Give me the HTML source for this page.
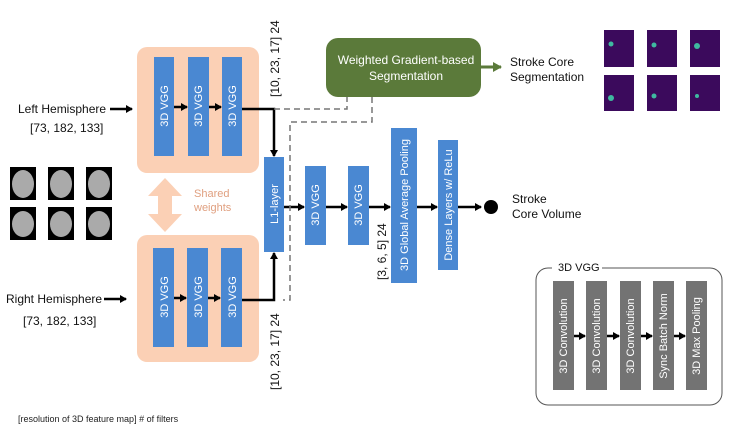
<!DOCTYPE html>
<html><head><meta charset="utf-8"><style>
body{margin:0;background:#fff;width:736px;height:435px;overflow:hidden}
svg{font-family:"Liberation Sans",sans-serif}
</style></head><body>
<svg width="736" height="435" viewBox="0 0 736 435">
<defs>
<marker id="a" markerWidth="8" markerHeight="8" refX="6" refY="4" orient="auto" markerUnits="userSpaceOnUse"><path d="M0,0L7,4L0,8z" fill="#000"/></marker>
<marker id="g" markerWidth="10" markerHeight="10" refX="8" refY="5" orient="auto" markerUnits="userSpaceOnUse"><path d="M0,0L9,5L0,10z" fill="#5b7a3a"/></marker>
</defs>
<!-- peach boxes -->
<rect x="137" y="47" width="122" height="126" rx="10" fill="#fbd0b5"/>
<rect x="137" y="235" width="122" height="127" rx="10" fill="#fbd0b5"/>
<g fill="#4a88d2">
<rect x="154" y="57" width="20" height="99"/><rect x="188" y="57" width="21" height="99"/><rect x="222" y="57" width="20" height="99"/>
<rect x="153" y="248" width="21" height="99"/><rect x="187" y="248" width="21" height="99"/><rect x="221" y="248" width="21" height="99"/>
<rect x="264" y="157" width="20" height="95"/>
<rect x="305" y="166" width="21" height="79"/><rect x="348" y="166" width="21" height="79"/>
<rect x="391" y="128" width="26" height="155"/><rect x="438" y="140" width="20" height="130"/>
</g>
<g fill="#fff" font-size="11" text-anchor="middle">
<text transform="translate(168,106) rotate(-90)">3D VGG</text>
<text transform="translate(202,106) rotate(-90)">3D VGG</text>
<text transform="translate(236,106) rotate(-90)">3D VGG</text>
<text transform="translate(168,297) rotate(-90)">3D VGG</text>
<text transform="translate(202,297) rotate(-90)">3D VGG</text>
<text transform="translate(236,297) rotate(-90)">3D VGG</text>
<text transform="translate(278,204) rotate(-90)">L1-layer</text>
<text transform="translate(319,205) rotate(-90)">3D VGG</text>
<text transform="translate(362,205) rotate(-90)">3D VGG</text>
<text transform="translate(408,205) rotate(-90)">3D Global Average Pooling</text>
<text transform="translate(452,205) rotate(-90)">Dense Layers w/  ReLu</text>
</g>
<!-- arrows -->
<g stroke="#000" stroke-width="2.5" fill="none" marker-end="url(#a)">
<line x1="110" y1="109" x2="132" y2="109"/>
<line x1="104" y1="299" x2="126" y2="299"/>
<line x1="174" y1="107" x2="187" y2="107"/><line x1="209" y1="107" x2="221" y2="107"/>
<line x1="174" y1="298" x2="186" y2="298"/><line x1="208" y1="298" x2="220" y2="298"/>
<polyline points="242,109 274,109 274,156"/>
<polyline points="242,300 274,300 274,253"/>
<line x1="284" y1="207" x2="304" y2="207"/><line x1="326" y1="207" x2="347" y2="207"/>
<line x1="369" y1="207" x2="390" y2="207"/><line x1="417" y1="207" x2="437" y2="207"/>
<line x1="458" y1="207" x2="481" y2="207"/>
</g>
<circle cx="491" cy="207" r="7" fill="#000"/>
<g stroke="#777" stroke-width="1.5" stroke-dasharray="6,4" fill="none">
<polyline points="274,109 347,109 347,97"/>
<polyline points="372,97 372,122 290,122 290,300 283,300"/>
</g>
<!-- green box -->
<rect x="326" y="38" width="155" height="59" rx="12" fill="#5b7a3a"/>
<text x="406" y="64" fill="#fff" font-size="12" text-anchor="middle">Weighted Gradient-based</text>
<text x="406" y="80" fill="#fff" font-size="12" text-anchor="middle">Segmentation</text>
<line x1="481" y1="67" x2="501" y2="67" stroke="#5b7a3a" stroke-width="3" marker-end="url(#g)"/>
<g font-size="12" fill="#111">
<text x="510" y="66">Stroke Core</text><text x="510" y="81">Segmentation</text>
<text x="512" y="203">Stroke</text><text x="512" y="218">Core Volume</text>
<text x="18" y="113">Left Hemisphere</text><text x="30" y="132">[73, 182, 133]</text>
<text x="6" y="303">Right Hemisphere</text><text x="23" y="325">[73, 182, 133]</text>
<text transform="translate(279,97) rotate(-90)">[10, 23, 17] 24</text>
<text transform="translate(279,390) rotate(-90)">[10, 23, 17] 24</text>
<text transform="translate(386,280) rotate(-90)">[3, 6, 5] 24</text>
</g>
<!-- purple images -->
<g fill="#3b0a5c">
<rect x="604" y="30" width="30" height="37"/><rect x="647" y="30" width="30" height="37"/><rect x="690" y="30" width="30" height="37"/>
<rect x="604" y="75" width="30" height="36"/><rect x="647" y="75" width="30" height="36"/><rect x="690" y="75" width="30" height="36"/>
</g>
<g fill="#3fb9a0"><circle cx="611" cy="44" r="2.5"/><circle cx="654" cy="45" r="2.5"/><circle cx="697" cy="46" r="3"/><circle cx="611" cy="98" r="3"/><circle cx="654" cy="96" r="2.5"/><circle cx="697" cy="96" r="2"/></g>
<!-- brains -->
<g fill="#000"><rect x="10" y="167" width="26" height="33"/><rect x="48" y="167" width="26" height="33"/><rect x="86" y="167" width="26" height="33"/><rect x="10" y="207" width="26" height="33"/><rect x="48" y="207" width="26" height="33"/><rect x="86" y="207" width="26" height="33"/></g>
<g fill="#aaa"><ellipse cx="23" cy="184" rx="11" ry="14"/><ellipse cx="61" cy="184" rx="11" ry="14"/><ellipse cx="99" cy="184" rx="11" ry="14"/><ellipse cx="23" cy="224" rx="11" ry="13"/><ellipse cx="61" cy="224" rx="11" ry="13"/><ellipse cx="99" cy="224" rx="11" ry="13"/></g>
<!-- shared weights -->
<path d="M165,178 L182,196 L172,196 L172,214 L182,214 L165,232 L148,214 L158,214 L158,196 L148,196 Z" fill="#fbd0b5"/>
<text x="194" y="197" fill="#e0a080" font-size="11">Shared</text>
<text x="194" y="211" fill="#e0a080" font-size="11">weights</text>
<!-- legend -->
<rect x="536" y="268" width="186" height="137" rx="12" fill="none" stroke="#555" stroke-width="1"/>
<rect x="552" y="260" width="50" height="14" fill="#fff"/>
<text x="558" y="271" font-size="11" fill="#111">3D VGG</text>
<g fill="#737373"><rect x="553" y="281" width="21" height="109"/><rect x="586" y="281" width="21" height="109"/><rect x="620" y="281" width="21" height="109"/><rect x="653" y="281" width="21" height="109"/><rect x="686" y="281" width="21" height="109"/></g>
<g fill="#fff" font-size="11" text-anchor="middle">
<text transform="translate(567,336) rotate(-90)">3D Convolution</text>
<text transform="translate(600,336) rotate(-90)">3D Convolution</text>
<text transform="translate(634,336) rotate(-90)">3D Convolution</text>
<text transform="translate(667,336) rotate(-90)">Sync Batch Norm</text>
<text transform="translate(700,336) rotate(-90)">3D Max Pooling</text>
</g>
<g stroke="#000" stroke-width="2.5" marker-end="url(#a)">
<line x1="574" y1="336" x2="585" y2="336"/><line x1="607" y1="336" x2="619" y2="336"/><line x1="641" y1="336" x2="652" y2="336"/><line x1="674" y1="336" x2="685" y2="336"/>
</g>
<text x="18" y="422" font-size="9" fill="#222">[resolution of 3D feature map] # of filters</text>
</svg>
</body></html>
